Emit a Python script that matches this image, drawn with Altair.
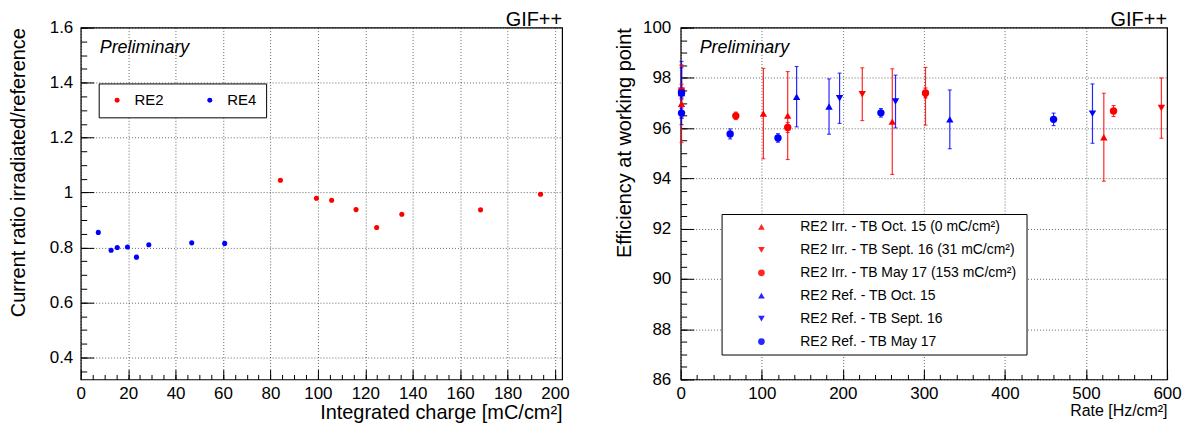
import altair as alt
import pandas as pd

FONT = "Liberation Sans"
RED = "#ff0000"
BLUE = "#0000ff"

# ---------------- Left panel: current ratio vs integrated charge ----------------
left_series = ["RE2", "RE4"]
re2_charge = [84.2, 99.4, 105.8, 116.1, 124.8, 135.4, 168.6, 193.9]
re2_ratio = [1.045, 0.979, 0.972, 0.938, 0.873, 0.921, 0.937, 0.994]
re4_charge = [7.4, 12.8, 15.4, 19.7, 23.5, 28.7, 46.8, 60.7]
re4_ratio = [0.855, 0.790, 0.800, 0.802, 0.765, 0.810, 0.817, 0.815]

left_x_title = "Integrated charge [mC/cm²]"
left_y_title = "Current ratio irradiated/reference"
left_x_major = [0, 20, 40, 60, 80, 100, 120, 140, 160, 180, 200]
left_y_major = [0.4, 0.6, 0.8, 1.0, 1.2, 1.4, 1.6]
left_x_minor = [5 * i for i in range(1, 41)]
left_y_minor = [round(0.35 + 0.05 * i, 2) for i in range(26)]
left_x_domain = [0, 203]
left_y_domain = [0.32, 1.6]

# ---------------- Right panel: efficiency vs rate ----------------
right_labels = [
    "RE2 Irr. - TB Oct. 15  (0 mC/cm²)",
    "RE2 Irr. - TB Sept. 16  (31 mC/cm²)",
    "RE2 Irr. - TB May 17  (153 mC/cm²)",
    "RE2 Ref. - TB Oct. 15",
    "RE2 Ref. -  TB Sept. 16",
    "RE2 Ref. -  TB May 17",
]
irr_oct15_rate = [1, 102, 132, 261, 522]
irr_oct15_eff = [96.97, 96.58, 96.50, 96.26, 95.64]
irr_oct15_err = [1.55, 1.8, 1.75, 2.1, 1.75]

irr_sep16_rate = [1, 224, 302, 593]
irr_sep16_eff = [97.49, 97.35, 97.27, 96.80]
irr_sep16_err = [1.0, 1.05, 1.15, 1.2]

irr_may17_rate = [1, 68, 132, 302, 534]
irr_may17_eff = [97.45, 96.49, 96.03, 97.40, 96.68]
irr_may17_err = [0.3, 0.15, 0.2, 0.2, 0.22]

ref_oct15_rate = [1, 143, 183, 332]
ref_oct15_eff = [97.40, 97.25, 96.86, 96.35]
ref_oct15_err = [1.26, 1.2, 1.1, 1.17]

ref_sep16_rate = [1, 196, 265, 508]
ref_sep16_eff = [97.40, 97.19, 97.06, 96.58]
ref_sep16_err = [1.0, 1.0, 1.05, 1.18]

ref_may17_rate = [1, 1, 61, 120, 247, 460]
ref_may17_eff = [97.40, 96.60, 95.77, 95.61, 96.61, 96.35]
ref_may17_err = [0.2, 0.2, 0.2, 0.17, 0.17, 0.25]

right_x_title = "Rate [Hz/cm²]"
right_y_title = "Efficiency at working point"
right_x_major = [0, 100, 200, 300, 400, 500, 600]
right_y_major = [86, 88, 90, 92, 94, 96, 98, 100]
right_x_minor = [20 * i for i in range(1, 31)]
right_y_minor = [86 + 0.5 * i for i in range(29)]
right_x_domain = [0, 600]
right_y_domain = [86, 100]

corner_title = "GIF++"
prelim_text = "Preliminary"

# ---------------- tables ----------------
left_df = pd.concat([
    pd.DataFrame({"x": re2_charge, "y": re2_ratio, "series": left_series[0]}),
    pd.DataFrame({"x": re4_charge, "y": re4_ratio, "series": left_series[1]}),
], ignore_index=True)

right_sets = [
    (irr_oct15_rate, irr_oct15_eff, irr_oct15_err),
    (irr_sep16_rate, irr_sep16_eff, irr_sep16_err),
    (irr_may17_rate, irr_may17_eff, irr_may17_err),
    (ref_oct15_rate, ref_oct15_eff, ref_oct15_err),
    (ref_sep16_rate, ref_sep16_eff, ref_sep16_err),
    (ref_may17_rate, ref_may17_eff, ref_may17_err),
]
right_colors = [RED, RED, RED, BLUE, BLUE, BLUE]
right_shapes = ["triangle-up", "triangle-down", "circle", "triangle-up", "triangle-down", "circle"]
frames = []
for lab, col, (r, e, s) in zip(right_labels, right_colors, right_sets):
    d = pd.DataFrame({"x": r, "y": e, "err": s})
    d["lo"] = d["y"] - d["err"]
    d["hi"] = d["y"] + d["err"]
    d["series"] = lab
    d["col"] = col
    frames.append(d)
right_df = pd.concat(frames, ignore_index=True)

prelim_df = pd.DataFrame({"t": [prelim_text]})


def axis_main(orient, values, title, extent, title_pad, label_pad, title_size):
    return alt.Axis(
        orient=orient, values=values, title=title, format="~f",
        labelFont=FONT, labelFontSize=17, labelColor="black", labelPadding=label_pad,
        labelFlush=False, labelOverlap=False,
        ticks=False, tickSize=0, domain=False,
        grid=True, gridColor="black", gridDash=[1, 2], gridOpacity=0.6, gridWidth=1,
        titleFont=FONT, titleFontSize=title_size, titleFontWeight="normal", titleColor="black",
        titleAnchor="end", titlePadding=title_pad, minExtent=extent, maxExtent=extent,
    )


def axis_ticks(orient, values, length):
    return alt.Axis(
        orient=orient, values=values, title=None, labels=False, domain=False, grid=False,
        ticks=True, tickSize=length, offset=-length, tickColor="black", tickWidth=1,
        minExtent=0, maxExtent=length,
    )


def tick_layers(df, xs, ys, xmaj, xmin, ymaj, ymin):
    major = alt.Chart(df).mark_point(opacity=0).encode(
        x=alt.X("x:Q", scale=xs, axis=axis_ticks("bottom", xmaj, 10)),
        y=alt.Y("y:Q", scale=ys, axis=axis_ticks("left", ymaj, 13)),
    )
    minor = alt.Chart(df).mark_point(opacity=0).encode(
        x=alt.X("x:Q", scale=xs, axis=axis_ticks("bottom", xmin, 5)),
        y=alt.Y("y:Q", scale=ys, axis=axis_ticks("left", ymin, 6)),
    )
    return [major, minor]


def prelim_layer():
    return alt.Chart(prelim_df).mark_text(
        align="left", baseline="middle", fontStyle="italic", fontSize=18, font=FONT, color="black"
    ).encode(x=alt.value(19), y=alt.value(20), text="t:N")


def corner():
    return alt.TitleParams(corner_title, anchor="end", frame="group", fontSize=20, font=FONT,
                           fontWeight="normal", color="black", offset=-11)


# ---------------- left chart ----------------
lx = alt.Scale(domain=left_x_domain, nice=False, zero=False)
ly = alt.Scale(domain=left_y_domain, nice=False, zero=False)

left_legend = alt.Legend(
    title=None, orient="none", legendX=18, legendY=56, direction="horizontal", columns=2,
    strokeColor="black", fillColor="white", padding=9, symbolSize=25, symbolOffset=2,
    labelOffset=10, labelFontSize=15, labelFont=FONT, labelColor="black", columnPadding=36,
    symbolStrokeWidth=0,
)
left_points = alt.Chart(left_df).mark_point(filled=True, size=26, opacity=1).encode(
    x=alt.X("x:Q", scale=lx, axis=axis_main("bottom", left_x_major, left_x_title, 23, 0, 6, 20)),
    y=alt.Y("y:Q", scale=ly, axis=axis_main("left", left_y_major, left_y_title, 35, 17, 8, 20)),
    color=alt.Color("series:N", scale=alt.Scale(domain=left_series, range=[RED, BLUE]), legend=left_legend),
)
left = alt.layer(
    *tick_layers(left_df, lx, ly, left_x_major, left_x_minor, left_y_major, left_y_minor),
    left_points, prelim_layer(),
).resolve_axis(x="independent", y="independent").properties(width=483, height=353, title=corner())

# ---------------- right chart ----------------
rx = alt.Scale(domain=right_x_domain, nice=False, zero=False)
ry = alt.Scale(domain=right_y_domain, nice=False, zero=False)

right_legend = alt.Legend(
    title=None, orient="none", legendX=41, legendY=187, direction="vertical",
    strokeColor="black", fillColor="white", padding=6, symbolSize=45, symbolOffset=27,
    labelOffset=32, labelFontSize=14, labelFont=FONT, labelColor="black", rowPadding=9,
    labelLimit=400, symbolStrokeWidth=0,
)
bars = alt.Chart(right_df).mark_rule(strokeWidth=1.2, opacity=0.85).encode(
    x=alt.X("x:Q", scale=rx, axis=None),
    y=alt.Y("lo:Q", scale=ry, axis=None),
    y2="hi:Q",
    color=alt.Color("col:N", scale=None),
)
cap_lo = alt.Chart(right_df).mark_tick(orient="horizontal", size=4, thickness=1, opacity=0.85).encode(
    x=alt.X("x:Q", scale=rx, axis=None),
    y=alt.Y("lo:Q", scale=ry, axis=None),
    color=alt.Color("col:N", scale=None),
)
cap_hi = alt.Chart(right_df).mark_tick(orient="horizontal", size=4, thickness=1, opacity=0.85).encode(
    x=alt.X("x:Q", scale=rx, axis=None),
    y=alt.Y("hi:Q", scale=ry, axis=None),
    color=alt.Color("col:N", scale=None),
)
right_points = alt.Chart(right_df).mark_point(filled=True, size=55, opacity=1).encode(
    x=alt.X("x:Q", scale=rx, axis=axis_main("bottom", right_x_major, right_x_title, 23, 0, 6, 16)),
    y=alt.Y("y:Q", scale=ry, axis=axis_main("left", right_y_major, right_y_title, 42, 4, 10, 20)),
    color=alt.Color("series:N", scale=alt.Scale(domain=right_labels, range=right_colors), legend=right_legend),
    shape=alt.Shape("series:N", scale=alt.Scale(domain=right_labels, range=right_shapes), legend=right_legend),
)
right = alt.layer(
    *tick_layers(right_df, rx, ry, right_x_major, right_x_minor, right_y_major, right_y_minor),
    bars, cap_lo, cap_hi, right_points, prelim_layer(),
).resolve_axis(x="independent", y="independent").properties(width=488, height=353, title=corner())

chart = alt.hconcat(left, right, spacing=44).resolve_scale(
    color="independent", shape="independent"
).properties(
    padding={"left": 0, "top": 0, "right": 0, "bottom": 0}
).configure(font=FONT).configure_view(stroke="black", strokeWidth=1.2)

chart.save("out.html", embed_options={"renderer": "svg", "actions": False})
